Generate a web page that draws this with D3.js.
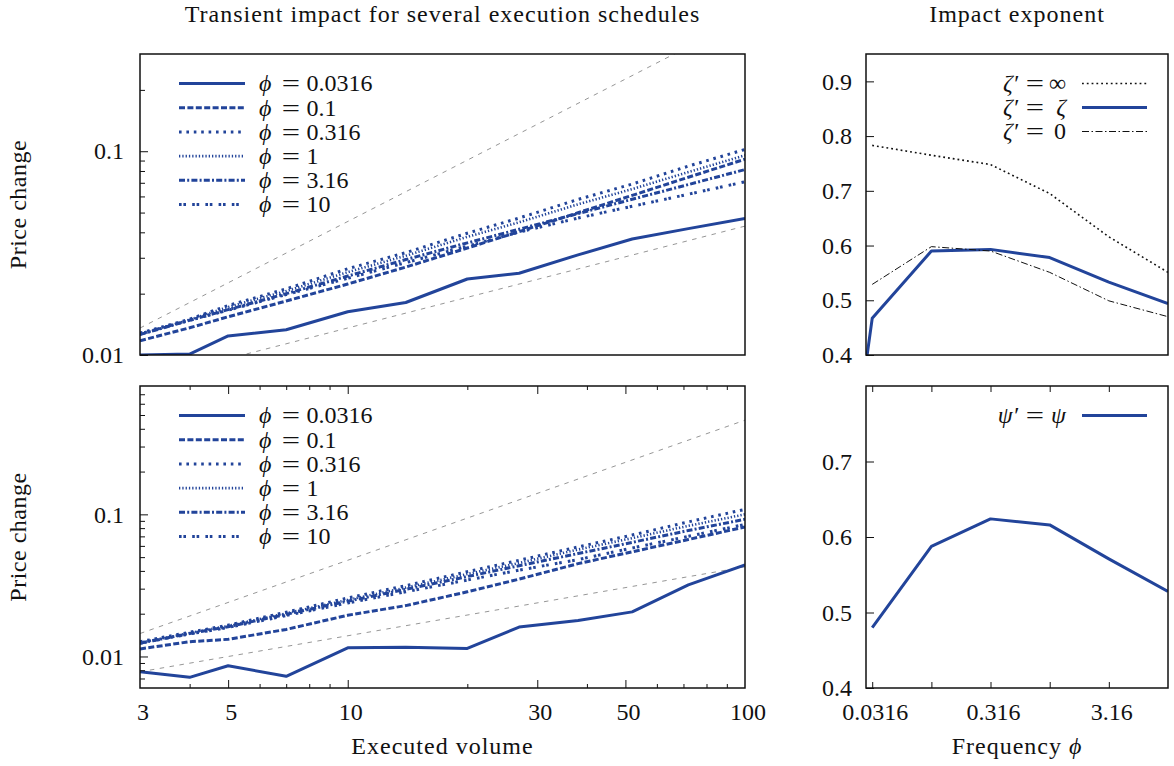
<!DOCTYPE html>
<html><head><meta charset="utf-8">
<script src="https://cdn.jsdelivr.net/npm/d3@7"></script>
<style>
body{margin:0;background:#fff}
text{font-family:"Liberation Serif","DejaVu Serif",serif;fill:#111}
</style></head>
<body><svg id="c" width="1174" height="766"></svg>
<script>
// ---------- data ----------
const volumes = [3, 4, 5, 7, 10, 14, 20, 27, 38, 52, 72, 100];
const phiLabels = ["0.0316", "0.1", "0.316", "1", "3.16", "10"];

// top-left panel: price change vs executed volume
const topPhi0_0316 = [0.0100, 0.0101, 0.0124, 0.0133, 0.0163, 0.0181, 0.0236, 0.0252, 0.0310, 0.0371, 0.0417, 0.0468];
const topPhi0_1    = [0.01175, 0.0136, 0.0154, 0.0184, 0.0223, 0.0270, 0.0335, 0.0403, 0.0499, 0.0607, 0.0745, 0.0914];
const topPhi0_316  = [0.0128, 0.0150, 0.0175, 0.0211, 0.0265, 0.0318, 0.0396, 0.0470, 0.0580, 0.0690, 0.0845, 0.1020];
const topPhi1      = [0.0126, 0.0149, 0.0172, 0.0206, 0.0255, 0.0307, 0.0380, 0.0448, 0.0549, 0.0652, 0.0790, 0.0955];
const topPhi3_16   = [0.0126, 0.0148, 0.0167, 0.0200, 0.0244, 0.0294, 0.0355, 0.0414, 0.0494, 0.0581, 0.0686, 0.0813];
const topPhi10     = [0.0127, 0.0148, 0.0166, 0.0198, 0.0238, 0.0284, 0.0342, 0.0401, 0.0470, 0.0537, 0.0615, 0.0708];

// bottom-left panel
const botPhi0_0316 = [0.00781, 0.00713, 0.00861, 0.00725, 0.0115, 0.0116, 0.0114, 0.0161, 0.0179, 0.0206, 0.0319, 0.0440];
const botPhi0_1    = [0.0113, 0.0127, 0.0132, 0.0155, 0.0195, 0.0228, 0.0285, 0.0350, 0.0450, 0.0545, 0.0665, 0.0815];
const botPhi0_316  = [0.0127, 0.0148, 0.0166, 0.0205, 0.0258, 0.0315, 0.0395, 0.0475, 0.0590, 0.0715, 0.0885, 0.1084];
const botPhi1      = [0.0125, 0.0146, 0.0164, 0.0201, 0.0250, 0.0305, 0.0380, 0.0455, 0.0565, 0.0680, 0.0830, 0.1000];
const botPhi3_16   = [0.0124, 0.0145, 0.0162, 0.0198, 0.0245, 0.0297, 0.0365, 0.0435, 0.0530, 0.0635, 0.0770, 0.0923];
const botPhi10     = [0.0124, 0.0144, 0.0160, 0.0194, 0.0238, 0.0285, 0.0345, 0.0405, 0.0480, 0.0580, 0.0700, 0.0850];

// grey reference power laws (endpoints at volume 3 and 100)
const refVolumes = [3, 100];
const refTopUpper = [0.01356, 0.452];
const refTopLower = [0.00743, 0.0429];
const refBotUpper = [0.0145, 0.46];
const refBotLower = [0.0078, 0.0427];

// right panels: impact exponent vs frequency
const freqs = [0.0316, 0.1, 0.316, 1, 3.16, 10];
const freqsZeta = [0.028, 0.0316, 0.1, 0.316, 1, 3.16, 10];
const expZetaInf = [0.783, 0.765, 0.748, 0.695, 0.616, 0.551];
const expZetaEq  = [0.385, 0.467, 0.590, 0.593, 0.578, 0.533, 0.494];
const expZeta0   = [0.529, 0.598, 0.590, 0.551, 0.499, 0.470];
const expPsi     = [0.480, 0.5875, 0.624, 0.616, 0.571, 0.528];

// tick labels
const volumeTickLabels = [3, 5, 10, 30, 50, 100];
const freqTickLabels = ["0.0316", "0.316", "3.16"];

// ---------- drawing ----------
const BLUE = "#22449a";
const svg = d3.select("#c");
const FS = 24;

const styles = [
  {w: 3, dash: null},
  {w: 3, dash: "6,2.4"},
  {w: 3, dash: "2.6,4.8"},
  {w: 2.6, dash: "1.3,2"},
  {w: 3, dash: "6,2.2,2,2.2"},
  {w: 3, dash: "2.6,1.8,2.6,6.2"}
];

const LX0 = 140, LX1 = 745, RX0 = 866, RX1 = 1168;
const xVol = d3.scaleLog().domain([3, 100]).range([LX0, LX1]);
const xFreq = d3.scaleLog().domain([0.028, 10]).range([RX0, RX1]);

let clipId = 0;
function addClip(x0, y0, x1, y1) {
  const id = "clip" + (clipId++);
  svg.append("clipPath").attr("id", id).append("rect")
    .attr("x", x0).attr("y", y0).attr("width", x1 - x0).attr("height", y1 - y0);
  return svg.append("g").attr("clip-path", `url(#${id})`);
}

function words(x, y, str, anchor) {
  return svg.append("text").attr("x", x).attr("y", y).attr("text-anchor", anchor || "middle")
    .attr("font-size", FS).attr("letter-spacing", 1).text(str);
}
function eqSign(cx, y) {
  svg.append("text").attr("transform", `translate(${cx},${y}) scale(1.35,1)`)
    .attr("text-anchor", "middle").attr("dy", "0.33em").attr("font-size", FS).text("=");
}

function leftPanel(y0, y1, yDomain, series, refs, minorY, showX) {
  const y = d3.scaleLog().domain(yDomain).range([y1, y0]);
  const g = addClip(LX0, y0, LX1, y1);
  const line = d3.line().x(d => xVol(d[0])).y(d => y(d[1]));
  refs.forEach(r => {
    g.append("path").datum(refVolumes.map((v, i) => [v, r[i]]))
      .attr("d", line).attr("fill", "none").attr("stroke", "#8a8a8a")
      .attr("stroke-width", 0.9).attr("stroke-dasharray", "4.5,5.5");
  });
  series.forEach((s, k) => {
    g.append("path").datum(volumes.map((v, i) => [v, s[i]]))
      .attr("d", line).attr("fill", "none").attr("stroke", BLUE)
      .attr("stroke-width", styles[k].w)
      .attr("stroke-dasharray", styles[k].dash)
      .attr("stroke-linejoin", "round");
  });
  const yMaj = d3.axisLeft(y).tickValues([0.01, 0.1]).tickFormat(d3.format("")).tickSizeInner(-8).tickSizeOuter(0).tickPadding(16);
  const ga = svg.append("g").attr("transform", `translate(${LX0},0)`).call(yMaj);
  ga.select(".domain").remove();
  ga.selectAll("line").attr("stroke", "#111").attr("stroke-width", 1);
  ga.selectAll("text").attr("font-size", FS).attr("fill", "#111").style("font-family", '"Liberation Serif",serif');
  const yMin = d3.axisLeft(y).tickValues(minorY).tickFormat("").tickSizeInner(-5).tickSizeOuter(0);
  const gm = svg.append("g").attr("transform", `translate(${LX0},0)`).call(yMin);
  gm.select(".domain").remove();
  gm.selectAll("line").attr("stroke", "#111").attr("stroke-width", 1);
  if (showX) {
    const minorX = [4, 6, 7, 8, 9, 20, 40, 60, 70, 80, 90];
    const majorX = [5, 10, 30, 50];
    [[d3.axisBottom, y1], [d3.axisTop, y0]].forEach(([ax, yy]) => {
      const a1 = ax(xVol).tickValues(majorX).tickFormat("").tickSizeInner(-8).tickSizeOuter(0);
      const a2 = ax(xVol).tickValues(minorX).tickFormat("").tickSizeInner(-4).tickSizeOuter(0);
      [a1, a2].forEach(a => {
        const gx = svg.append("g").attr("transform", `translate(0,${yy})`).call(a);
        gx.select(".domain").remove();
        gx.selectAll("line").attr("stroke", "#111").attr("stroke-width", 1);
      });
    });
    svg.append("g").selectAll("text").data(volumeTickLabels).join("text")
      .attr("x", d => xVol(d) + 3).attr("y", y1 + 32).attr("text-anchor", "middle")
      .attr("font-size", FS).text(d => d);
  }
  svg.append("rect").attr("x", LX0).attr("y", y0).attr("width", LX1 - LX0).attr("height", y1 - y0)
    .attr("fill", "none").attr("stroke", "#111").attr("stroke-width", 1.5);
  // legend
  phiLabels.forEach((lab, k) => {
    const yy = y0 + 29.5 + k * 24.2;
    svg.append("line").attr("x1", 179).attr("x2", 245).attr("y1", yy).attr("y2", yy)
      .attr("stroke", BLUE).attr("stroke-width", styles[k].w).attr("stroke-dasharray", styles[k].dash);
    svg.append("text").attr("x", 259).attr("y", yy).attr("dy", "0.33em").attr("font-size", FS)
      .attr("font-style", "italic").text("ϕ");
    eqSign(291, yy);
    svg.append("text").attr("x", 306.5).attr("y", yy).attr("dy", "0.33em").attr("font-size", FS).text(lab);
  });
  svg.append("text").attr("transform", `translate(26,${(y0 + y1) / 2}) rotate(-90)`)
    .attr("text-anchor", "middle").attr("font-size", FS).attr("letter-spacing", 0.5).text("Price change");
}

leftPanel(54, 355, [0.01, 0.3],
  [topPhi0_0316, topPhi0_1, topPhi0_316, topPhi1, topPhi3_16, topPhi10],
  [refTopUpper, refTopLower],
  [0.02, 0.03, 0.04, 0.05, 0.06, 0.07, 0.08, 0.09, 0.2], false);

leftPanel(386, 688, [0.006, 0.8],
  [botPhi0_0316, botPhi0_1, botPhi0_316, botPhi1, botPhi3_16, botPhi10],
  [refBotUpper, refBotLower],
  [0.007, 0.008, 0.009, 0.02, 0.03, 0.04, 0.05, 0.06, 0.07, 0.08, 0.09, 0.2, 0.3, 0.4, 0.5, 0.6, 0.7], true);

function rightPanel(y0, y1, yDomain, yTicks, series, legend, showX) {
  const y = d3.scaleLinear().domain(yDomain).range([y1, y0]);
  const g = addClip(RX0, y0, RX1, y1);
  series.forEach(s => {
    const line = d3.line().x(d => xFreq(d[0])).y(d => y(d[1]));
    g.append("path").datum(s.x.map((v, i) => [v, s.v[i]]))
      .attr("d", line).attr("fill", "none").attr("stroke", s.color)
      .attr("stroke-width", s.w).attr("stroke-dasharray", s.dash).attr("stroke-linejoin", "round");
  });
  const ya = d3.axisLeft(y).tickValues(yTicks).tickFormat(d3.format(".1f")).tickSizeInner(-8).tickSizeOuter(0).tickPadding(14);
  const ga = svg.append("g").attr("transform", `translate(${RX0},0)`).call(ya);
  ga.select(".domain").remove();
  ga.selectAll("line").attr("stroke", "#111").attr("stroke-width", 1);
  ga.selectAll("text").attr("font-size", FS).attr("fill", "#111").style("font-family", '"Liberation Serif",serif');
  if (showX) {
    [[d3.axisBottom, y1], [d3.axisTop, y0]].forEach(([ax, yy]) => {
      const a = ax(xFreq).tickValues([0.0316, 0.1, 0.316, 1, 3.16]).tickFormat("").tickSizeInner(-6).tickSizeOuter(0);
      const gx = svg.append("g").attr("transform", `translate(0,${yy})`).call(a);
      gx.select(".domain").remove();
      gx.selectAll("line").attr("stroke", "#111").attr("stroke-width", 1);
    });
    svg.append("g").selectAll("text").data(freqTickLabels).join("text")
      .attr("x", d => xFreq(+d) + 3).attr("y", y1 + 32).attr("text-anchor", "middle")
      .attr("font-size", FS).text(d => d);
  }
  svg.append("rect").attr("x", RX0).attr("y", y0).attr("width", RX1 - RX0).attr("height", y1 - y0)
    .attr("fill", "none").attr("stroke", "#111").attr("stroke-width", 1.5);
  legend.forEach((L, k) => {
    const yy = y0 + 29.5 + k * 24;
    const s = series[L.idx];
    svg.append("line").attr("x1", 1082).attr("x2", 1147).attr("y1", yy).attr("y2", yy)
      .attr("stroke", s.color).attr("stroke-width", s.w).attr("stroke-dasharray", s.dash);
    svg.append("text").attr("x", 1018).attr("y", yy).attr("dy", "0.33em").attr("text-anchor", "end")
      .attr("font-size", FS).attr("font-style", "italic").text(L.sym + "′");
    eqSign(1035, yy);
    svg.append("text").attr("x", 1066).attr("y", yy).attr("dy", "0.33em").attr("text-anchor", "end")
      .attr("font-size", FS).attr("font-style", L.italicRhs ? "italic" : "normal").text(L.rhs);
  });
}

rightPanel(54, 355, [0.4, 0.95], [0.4, 0.5, 0.6, 0.7, 0.8, 0.9], [
  {x: freqs, v: expZetaInf, color: "#111", w: 1.6, dash: "1.8,3"},
  {x: freqsZeta, v: expZetaEq, color: BLUE, w: 3, dash: null},
  {x: freqs, v: expZeta0, color: "#111", w: 1, dash: "7,2.5,1.5,2.5"}
], [
  {idx: 0, sym: "ζ", rhs: "∞", italicRhs: false},
  {idx: 1, sym: "ζ", rhs: "ζ", italicRhs: true},
  {idx: 2, sym: "ζ", rhs: "0", italicRhs: false}
], false);

rightPanel(386, 688, [0.4, 0.8], [0.4, 0.5, 0.6, 0.7], [
  {x: freqs, v: expPsi, color: BLUE, w: 3, dash: null}
], [
  {idx: 0, sym: "ψ", rhs: "ψ", italicRhs: true}
], true);

// titles & axis labels
const mid = (LX0 + LX1) / 2, rmid = (RX0 + RX1) / 2;
words(mid, 22, "Transient impact for several execution schedules");
words(rmid, 22, "Impact exponent");
words(mid, 754, "Executed volume");
const fq = words(rmid, 754, "Frequency ");
fq.append("tspan").attr("font-style", "italic").text("ϕ");
</script>
</body></html>
